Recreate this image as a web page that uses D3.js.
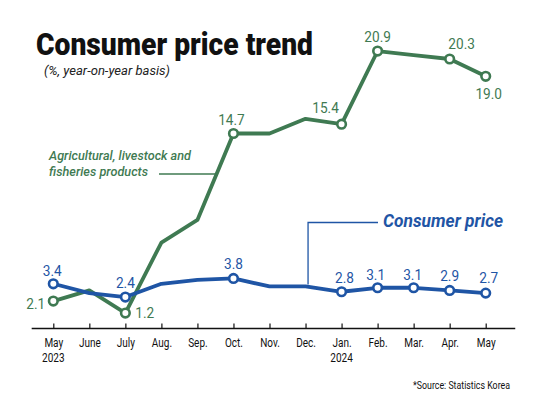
<!DOCTYPE html>
<html>
<head>
<meta charset="utf-8">
<script src="https://cdn.jsdelivr.net/npm/d3@7"></script>
<style>
  html, body { margin: 0; padding: 0; background: #fff; }
  svg { display: block; }
  text { font-family: Roboto, "Noto Sans", sans-serif; }
</style>
</head>
<body>
<svg id="chart" width="540" height="400"></svg>
<script>
// ---- data ----
const months = ["May", "June", "July", "Aug.", "Sep.", "Oct.", "Nov.", "Dec.", "Jan.", "Feb.", "Mar.", "Apr.", "May"];
const years = [{ i: 0, label: "2023" }, { i: 8, label: "2024" }];
const consumer = [3.4, 2.7, 2.4, 3.4, 3.7, 3.8, 3.2, 3.2, 2.8, 3.1, 3.1, 2.9, 2.7];
const agri = [2.1, 2.9, 1.2, 6.5, 8.2, 14.7, 14.7, 15.8, 15.4, 20.9, 20.6, 20.3, 19.0];
const consumerLabeled = [0, 2, 5, 8, 9, 10, 11, 12];
const agriLabeled = [0, 2, 5, 8, 9, 11, 12];

const GREEN = "#3f7a52";
const BLUE = "#1f55a5";

const svg = d3.select("#chart");
const x = d3.scaleLinear().domain([0, 12]).range([53.3, 485.7]);
const y = d3.scaleLinear().domain([0, 22]).range([329, 36.4]);

// squeeze a text element horizontally to mimic a condensed face
function condense(node, factor) {
  const w = node.getComputedTextLength();
  d3.select(node).attr("textLength", w * factor).attr("lengthAdjust", "spacingAndGlyphs");
}
function fitWidth(node, width) {
  d3.select(node).attr("textLength", width).attr("lengthAdjust", "spacingAndGlyphs");
}

// title
svg.append("text").attr("x", 36).attr("y", 55)
  .attr("font-weight", 900).attr("font-size", 31)
  .attr("fill", "#111").text("Consumer price trend")
  .each(function () { fitWidth(this, 277); });
svg.append("text").attr("x", 44).attr("y", 75)
  .attr("font-style", "italic").attr("font-size", 12.5).attr("fill", "#222")
  .text("(%, year-on-year basis)")
  .each(function () { fitWidth(this, 126); });

// axis
const axis = d3.axisBottom(x).tickValues(d3.range(months.length))
  .tickFormat(i => months[i]).tickSizeInner(-5).tickSizeOuter(0).tickPadding(10);
const gx = svg.append("g").attr("transform", "translate(0,328.5)").call(axis);
gx.select(".domain").remove();
gx.selectAll(".tick line").attr("stroke", "#111").attr("stroke-width", 1.2);
gx.selectAll(".tick text").attr("font-family", "Roboto, sans-serif").attr("font-size", 12.5).attr("fill", "#111")
  .each(function () { condense(this, 0.8); });
svg.append("line").attr("x1", x(-0.6)).attr("x2", x(12.82)).attr("y1", 328.5).attr("y2", 328.5)
  .attr("stroke", "#111").attr("stroke-width", 1.3);
svg.selectAll(".year").data(years).enter().append("text")
  .attr("x", d => x(d.i)).attr("y", 362).attr("text-anchor", "middle")
  .attr("font-size", 12.5).attr("fill", "#111").text(d => d.label)
  .each(function () { condense(this, 0.8); });

// lines
const line = d3.line().x((d, i) => x(i)).y(d => y(d));
svg.append("path").datum(agri).attr("d", line).attr("fill", "none")
  .attr("stroke", GREEN).attr("stroke-width", 3.8).attr("stroke-linejoin", "round");
svg.append("path").datum(consumer).attr("d", line).attr("fill", "none")
  .attr("stroke", BLUE).attr("stroke-width", 3.8).attr("stroke-linejoin", "round");

// leader lines: green one runs until it meets the Sep→Oct segment
const leadY = 174;
const t = (y(agri[4]) - leadY) / (y(agri[4]) - y(agri[5]));
const leadX = x(4) + t * (x(5) - x(4));
svg.append("line").attr("x1", 159).attr("x2", leadX).attr("y1", leadY).attr("y2", leadY)
  .attr("stroke", GREEN).attr("stroke-width", 1.3);
svg.append("polyline")
  .attr("points", `${x(7.07)},${y(consumer[7]) - 2} ${x(7.07)},222.5 378,222.5`)
  .attr("fill", "none").attr("stroke", BLUE).attr("stroke-width", 1.3);

// markers
svg.selectAll(".ma").data(agriLabeled).enter().append("circle")
  .attr("cx", i => x(i)).attr("cy", i => y(agri[i])).attr("r", 4.3)
  .attr("fill", "#fff").attr("stroke", GREEN).attr("stroke-width", 2.6);
svg.selectAll(".mc").data(consumerLabeled).enter().append("circle")
  .attr("cx", i => x(i)).attr("cy", i => y(consumer[i])).attr("r", 4.3)
  .attr("fill", "#fff").attr("stroke", BLUE).attr("stroke-width", 2.6);

// value labels (offsets in px)
const agriOff = { 0: [-8, 8, "end"], 2: [10, 5, "start"], 5: [-2, -8, "middle"], 8: [-16, -11, "middle"],
  9: [0, -9, "middle"], 11: [12, -10, "middle"], 12: [3, 23, "middle"] };
const consOff = { 0: [-1, -8, "middle"], 2: [0, -9, "middle"], 5: [0, -9, "middle"], 8: [3, -9, "middle"],
  9: [-2, -8, "middle"], 10: [-1, -8, "middle"], 11: [0, -9, "middle"], 12: [3, -10, "middle"] };
svg.selectAll(".la").data(agriLabeled).enter().append("text")
  .attr("x", i => x(i) + agriOff[i][0]).attr("y", i => y(agri[i]) + agriOff[i][1])
  .attr("text-anchor", i => agriOff[i][2]).attr("font-size", 15.5).attr("fill", GREEN)
  .text(i => agri[i].toFixed(1))
  .each(function () { condense(this, 0.88); });
svg.selectAll(".lc").data(consumerLabeled).enter().append("text")
  .attr("x", i => x(i) + consOff[i][0]).attr("y", i => y(consumer[i]) + consOff[i][1])
  .attr("text-anchor", i => consOff[i][2]).attr("font-size", 15.5).attr("fill", BLUE)
  .text(i => consumer[i].toFixed(1))
  .each(function () { condense(this, 0.88); });

// series labels
const gl = svg.append("text").attr("font-style", "italic")
  .attr("font-weight", 500).attr("font-size", 13).attr("fill", GREEN);
gl.append("tspan").attr("x", 49).attr("y", 160).text("Agricultural, livestock and")
  .each(function () { fitWidth(this, 142); });
gl.append("tspan").attr("x", 49).attr("y", 176).text("fisheries products")
  .each(function () { fitWidth(this, 99); });
svg.append("text").attr("x", 383).attr("y", 227)
  .attr("font-style", "italic").attr("font-weight", 700).attr("font-size", 17.5)
  .attr("fill", BLUE).text("Consumer price")
  .each(function () { fitWidth(this, 120); });

// source
svg.append("text").attr("x", 510).attr("y", 389).attr("text-anchor", "end")
  .attr("font-size", 10.5).attr("fill", "#111").text("*Source: Statistics Korea")
  .each(function () { fitWidth(this, 97); });
</script>
</body>
</html>
